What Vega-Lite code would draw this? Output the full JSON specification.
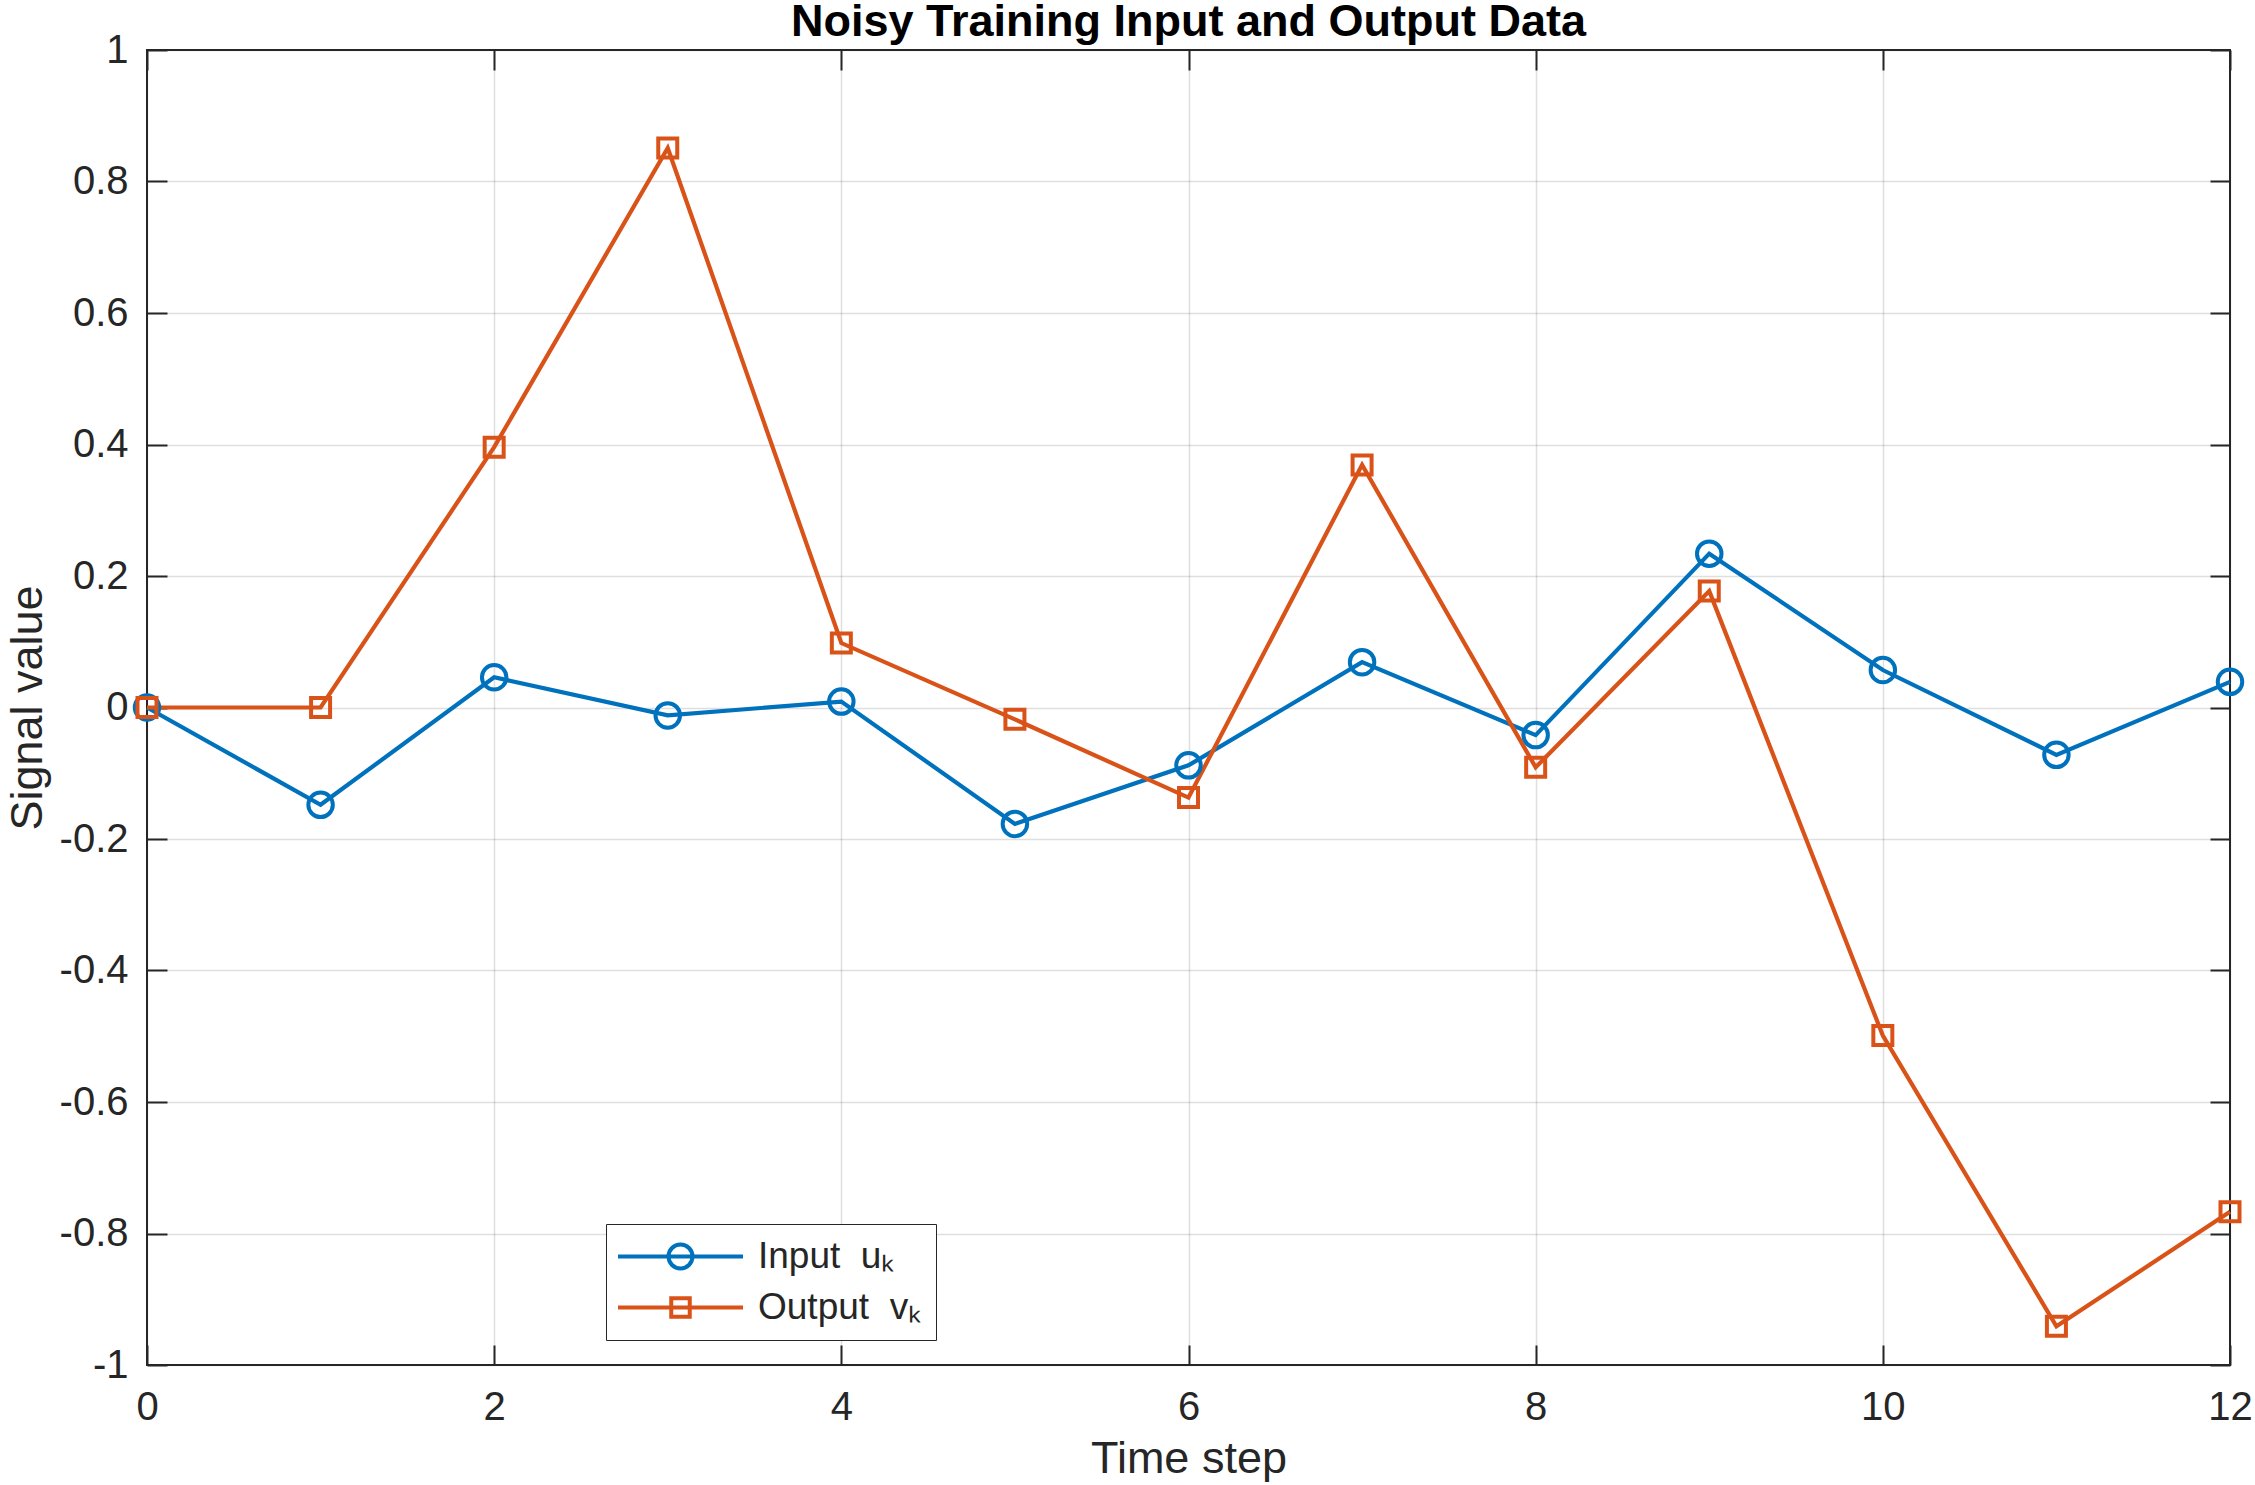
{
  "$schema": "https://vega.github.io/schema/vega-lite/v6.json",
  "width": 2083,
  "height": 1315,
  "autosize": {"type": "none"},
  "padding": {"left": 147, "top": 50, "right": 25, "bottom": 120},
  "background": "white",
  "config": {
    "view": {"stroke": "#262626", "strokeWidth": 2},
    "font": "Liberation Sans"
  },
  "title": {
    "text": "Noisy Training Input and Output Data",
    "font": "Liberation Sans",
    "fontSize": 45,
    "fontWeight": "bold",
    "color": "#000000",
    "anchor": "middle",
    "offset": -15
  },
  "data": {
    "values": [
      {"step": 0, "value": 0, "series": "Input"},
      {"step": 1, "value": -0.148, "series": "Input"},
      {"step": 2, "value": 0.046, "series": "Input"},
      {"step": 3, "value": -0.012, "series": "Input"},
      {"step": 4, "value": 0.009, "series": "Input"},
      {"step": 5, "value": -0.177, "series": "Input"},
      {"step": 6, "value": -0.088, "series": "Input"},
      {"step": 7, "value": 0.069, "series": "Input"},
      {"step": 8, "value": -0.042, "series": "Input"},
      {"step": 9, "value": 0.234, "series": "Input"},
      {"step": 10, "value": 0.057, "series": "Input"},
      {"step": 11, "value": -0.072, "series": "Input"},
      {"step": 12, "value": 0.039, "series": "Input"},
      {"step": 0, "value": 0, "series": "Output"},
      {"step": 1, "value": 0, "series": "Output"},
      {"step": 2, "value": 0.396, "series": "Output"},
      {"step": 3, "value": 0.851, "series": "Output"},
      {"step": 4, "value": 0.098, "series": "Output"},
      {"step": 5, "value": -0.018, "series": "Output"},
      {"step": 6, "value": -0.137, "series": "Output"},
      {"step": 7, "value": 0.369, "series": "Output"},
      {"step": 8, "value": -0.091, "series": "Output"},
      {"step": 9, "value": 0.177, "series": "Output"},
      {"step": 10, "value": -0.499, "series": "Output"},
      {"step": 11, "value": -0.941, "series": "Output"},
      {"step": 12, "value": -0.767, "series": "Output"}
    ]
  },
  "encoding": {
    "color": {
      "field": "series",
      "type": "nominal",
      "scale": {"domain": ["Input", "Output"], "range": ["#0072BD", "#D95319"]},
      "legend": {
        "title": null,
        "orient": "none",
        "legendX": 459,
        "legendY": 1174,
        "direction": "vertical",
        "strokeColor": "#262626",
        "fillColor": "white",
        "padding": 14,
        "rowPadding": 11,
        "symbolSize": 625,
        "symbolStrokeWidth": 4,
        "symbolOpacity": 1,
        "labelOffset": 101,
        "labelFont": "Liberation Sans",
        "labelFontSize": 37,
        "labelColor": "#262626",
        "labelLimit": 400,
        "labelExpr": "datum.label === 'Input' ? 'Input\u00a0\u00a0uₖ' : 'Output\u00a0\u00a0vₖ'",
        "encode": {
          "symbols": {
            "update": {
              "shape": {"signal": "datum.value === 'Input' ? 'M-1.64,0L8.36,0M4.32,0A0.96,0.96,0,1,1,2.4,0A0.96,0.96,0,1,1,4.32,0Z' : 'M-1.64,0L8.36,0M2.62,-0.74L4.1,-0.74L4.1,0.74L2.62,0.74Z'"},
              "stroke": {"signal": "datum.value === 'Input' ? '#0072BD' : '#D95319'"},
              "fill": {"value": "transparent"},
              "strokeWidth": {"value": 4},
              "size": {"value": 625}
            }
          }
        }
      }
    }
  },
  "layer": [
    {
      "mark": {"type": "line", "strokeWidth": 4.2},
      "encoding": {
        "x": {
          "field": "step",
          "type": "quantitative",
          "scale": {"domain": [0, 12], "nice": false, "zero": false},
          "axis": {
            "orient": "bottom",
            "values": [0, 2, 4, 6, 8, 10, 12],
            "title": "Time step",
            "grid": true,
            "gridColor": "#262626",
            "gridOpacity": 0.15,
            "gridWidth": 1.5,
            "domain": false,
            "ticks": true,
            "tickSize": -20,
            "tickWidth": 2,
            "tickColor": "#262626",
            "labelPadding": 42,
            "labelFlush": false,
            "labelOverlap": false,
            "labelFont": "Liberation Sans",
            "labelFontSize": 40,
            "labelColor": "#262626",
            "labelExpr": "datum.value < 0 ? '-' + format(-datum.value, '~g') : format(datum.value, '~g')",
            "titleFont": "Liberation Sans",
            "titleFontSize": 45,
            "titleFontWeight": "normal",
            "titleColor": "#262626",
            "titlePadding": 9
          }
        },
        "y": {
          "field": "value",
          "type": "quantitative",
          "scale": {"domain": [-1, 1], "nice": false, "zero": false},
          "axis": {
            "orient": "left",
            "values": [-1, -0.8, -0.6, -0.4, -0.2, 0, 0.2, 0.4, 0.6, 0.8, 1],
            "title": "Signal value",
            "grid": true,
            "gridColor": "#262626",
            "gridOpacity": 0.15,
            "gridWidth": 1.5,
            "domain": false,
            "ticks": true,
            "tickSize": -20,
            "tickWidth": 2,
            "tickColor": "#262626",
            "labelPadding": 39,
            "labelFlush": false,
            "labelOverlap": false,
            "labelFont": "Liberation Sans",
            "labelFontSize": 40,
            "labelColor": "#262626",
            "labelExpr": "datum.value < 0 ? '-' + format(-datum.value, '~g') : format(datum.value, '~g')",
            "titleFont": "Liberation Sans",
            "titleFontSize": 45,
            "titleFontWeight": "normal",
            "titleColor": "#262626",
            "titlePadding": 9
          }
        }
      }
    },
    {
      "transform": [{"filter": "datum.series === 'Input'"}],
      "mark": {"type": "point", "shape": "circle", "size": 600, "filled": false, "strokeWidth": 4, "opacity": 1},
      "encoding": {
        "x": {
          "field": "step",
          "type": "quantitative",
          "scale": {"domain": [0, 12], "nice": false, "zero": false},
          "axis": {
            "orient": "top",
            "values": [0, 2, 4, 6, 8, 10, 12],
            "title": null,
            "labels": false,
            "grid": false,
            "domain": false,
            "ticks": true,
            "tickSize": -20,
            "tickWidth": 2,
            "tickColor": "#262626"
          }
        },
        "y": {
          "field": "value",
          "type": "quantitative",
          "scale": {"domain": [-1, 1], "nice": false, "zero": false},
          "axis": {
            "orient": "right",
            "values": [-1, -0.8, -0.6, -0.4, -0.2, 0, 0.2, 0.4, 0.6, 0.8, 1],
            "title": null,
            "labels": false,
            "grid": false,
            "domain": false,
            "ticks": true,
            "tickSize": -20,
            "tickWidth": 2,
            "tickColor": "#262626"
          }
        }
      }
    },
    {
      "transform": [{"filter": "datum.series === 'Output'"}],
      "mark": {"type": "point", "shape": "square", "size": 361, "filled": false, "strokeWidth": 4, "opacity": 1},
      "encoding": {
        "x": {
          "field": "step",
          "type": "quantitative",
          "scale": {"domain": [0, 12], "nice": false, "zero": false},
          "axis": null
        },
        "y": {
          "field": "value",
          "type": "quantitative",
          "scale": {"domain": [-1, 1], "nice": false, "zero": false},
          "axis": null
        }
      }
    }
  ],
  "resolve": {"axis": {"x": "independent", "y": "independent"}}
}
